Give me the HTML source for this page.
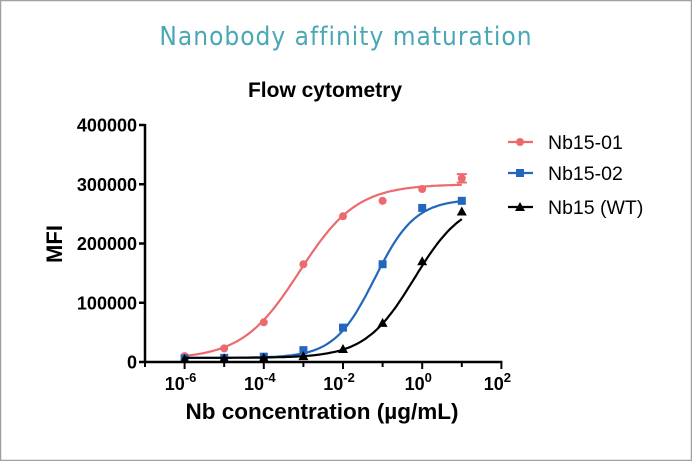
<!DOCTYPE html>
<html><head><meta charset="utf-8"><style>
html,body{margin:0;padding:0;background:#fff}
svg{display:block}
text{font-family:"Liberation Sans",sans-serif}
</style></head><body>
<svg id="chart" width="692" height="461" viewBox="0 0 692 461">
<rect x="0.5" y="0.5" width="691" height="460" fill="#fff" stroke="#a0a0a0" stroke-width="1.5"/>
<text x="346" y="45" text-anchor="middle" font-size="26" fill="#4aa8b5" style="font-family:'DejaVu Sans Condensed','DejaVu Sans',sans-serif;letter-spacing:1px">Nanobody affinity maturation</text>
<text x="325" y="97" text-anchor="middle" font-size="21" font-weight="bold" fill="#000">Flow cytometry</text>
<g id="axes"></g>
<g id="series"></g>
<g id="legend"></g>
<text x="322" y="419" text-anchor="middle" font-size="22.5" font-weight="bold">Nb concentration (µg/mL)</text>
<text transform="translate(62,244) rotate(-90)" text-anchor="middle" font-size="22" font-weight="bold">MFI</text>
</svg>
<script>
const xDecades = [-6,-5,-4,-3,-2,-1,0,1];
const nb1501 = [10000,23000,67000,165000,246000,272000,292000,310000];
const nb1502 = [6000,7000,9000,20000,58000,165000,260000,272000];
const nb15wt = [5000,6000,7000,10000,22000,66000,170000,254000];
const seriesNames = ["Nb15-01","Nb15-02","Nb15 (WT)"];
const fitRed = [5000,300000,-3.1,0.6];
const fitBlue = [7000,275000,-1.2,0.85];
const fitBlack = [7000,275000,-0.2,0.7];
const yTicks = [0,100000,200000,300000,400000];
const xTicks = [-6,-4,-2,0,2];

const NS="http://www.w3.org/2000/svg";
const X0=145,PX=39.6,XMIN=-7,Y0=362,YPX=237/400000;
const sx=d=>X0+(d-XMIN)*PX, sy=v=>Y0-v*YPX;
function mk(t,a,p){const e=document.createElementNS(NS,t);for(const k in a)e.setAttribute(k,a[k]);p.appendChild(e);return e;}
const axes=document.getElementById('axes'), ser=document.getElementById('series'), leg=document.getElementById('legend');

let ax=mk('line',{x1:X0,y1:sy(400000)-1,x2:X0,y2:Y0+1,stroke:'#000','stroke-width':2.5},axes);

ax=mk('line',{x1:X0-1,y1:Y0,x2:sx(2)+1,y2:Y0,stroke:'#000','stroke-width':2.5},axes);

yTicks.forEach(v=>{
  const t=mk('line',{x1:X0-6,x2:X0,y1:sy(v),y2:sy(v),stroke:'#000','stroke-width':2.5},axes);
  
  const l=mk('text',{x:X0-8,y:sy(v)+6.5,'text-anchor':'end','font-size':18,'font-weight':'bold'},axes);
  l.textContent=v;
  
});
for(let d=-7;d<=2;d++){
  const major=xTicks.includes(d);
  const t=mk('line',{x1:sx(d),x2:sx(d),y1:Y0,y2:Y0+(major?7:5),stroke:'#000','stroke-width':2},axes);
  
}
xTicks.forEach(d=>{
  const l=mk('text',{x:sx(d)-4,y:Y0+28,'text-anchor':'middle','font-size':18,'font-weight':'bold'},axes);
  l.innerHTML='10<tspan dy="-8" font-size="13">'+(d<0?'-'+(-d):d)+'</tspan>';
  
});

function marker(type,x,y,c,p){
  let m;
  if(type==='circle')m=mk('circle',{cx:x,cy:y,r:4,fill:c},p);
  else if(type==='square')m=mk('rect',{x:x-4,y:y-4,width:8,height:8,fill:c},p);
  else m=mk('polygon',{points:`${x},${y-5} ${x+5},${y+4} ${x-5},${y+4}`,fill:c},p);
  return m;
}
const defs=[[nb1501,fitRed,'#ec6a6e','circle','nb15-01'],[nb1502,fitBlue,'#2267bd','square','nb15-02'],[nb15wt,fitBlack,'#000','triangle','nb15-wt']];
defs.forEach(([vals,f,c,mt,nm],i)=>{
  const g=mk('g',{},ser);
  
  let d='';
  for(let k=0;k<=140;k++){const lx=-6+k*7/140;const v=f[0]+(f[1]-f[0])/(1+Math.pow(10,(f[2]-lx)*f[3]));d+=(k?'L':'M')+sx(lx).toFixed(1)+','+sy(v).toFixed(1);}
  const p=mk('path',{d:d,fill:'none',stroke:c,'stroke-width':2.2},g);
  
  vals.forEach((v,j)=>{
    const m=marker(mt,sx(xDecades[j]),sy(v),c,g);
    
  });
  if(i===0){
    const x=sx(1),y1=sy(vals[7]+7000),y2=sy(vals[7]-7000);
    const eb=mk('path',{d:`M${x},${y1}V${y2}M${x-5},${y1}H${x+5}M${x-5},${y2}H${x+5}`,stroke:c,'stroke-width':2},g);
    
  }
  const ly=142+[0,31,65][i];
  const lg=mk('g',{},leg);
  
  mk('line',{x1:508,x2:533,y1:ly,y2:ly,stroke:c,'stroke-width':2.2},lg);
  marker(mt,520,ly,c,lg);
  const t=mk('text',{x:548,y:ly+7,'font-size':19.5},lg);
  t.textContent=seriesNames[i];
});
</script>
</body></html>
